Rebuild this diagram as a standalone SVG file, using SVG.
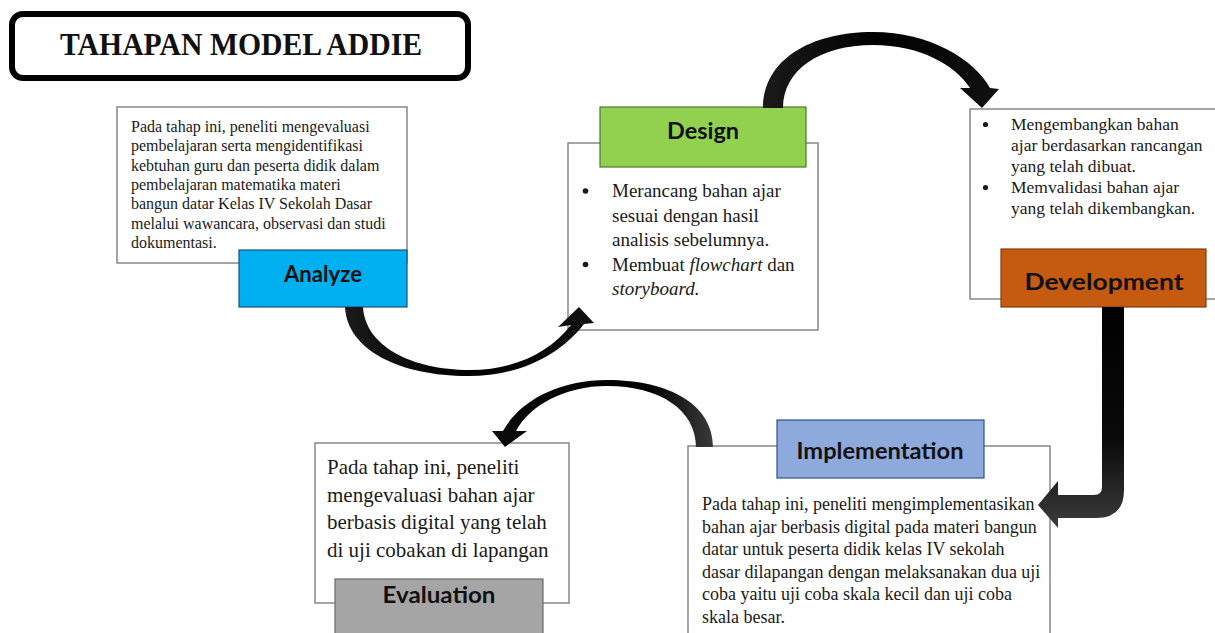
<svg xmlns="http://www.w3.org/2000/svg" width="1215" height="633" viewBox="0 0 1215 633">
<defs>
<style>
.box{fill:#fff;stroke:#7f7f7f;stroke-width:1.4}
.body{font-family:"Liberation Serif","Times New Roman",serif;fill:#1a1a1a}
.lbl{font-family:Lato,"Open Sans",sans-serif;font-weight:bold;font-size:22px;fill:#111;text-anchor:middle}
.title{font-family:"Liberation Serif","Times New Roman",serif;font-weight:bold;font-size:32px;fill:#111;text-anchor:middle}
.bul{fill:#1a1a1a}
</style>
<linearGradient id="gV" x1="0" y1="0" x2="0" y2="1">
<stop offset="0" stop-color="#000"/><stop offset="0.6" stop-color="#0a0a0a"/><stop offset="1" stop-color="#3c3c3c"/>
</linearGradient>
<linearGradient id="gH" x1="0" y1="0" x2="1" y2="0">
<stop offset="0" stop-color="#0a0a0a"/><stop offset="0.7" stop-color="#000"/><stop offset="1" stop-color="#3a3a3a"/>
</linearGradient>
<linearGradient id="gH2" x1="0" y1="0" x2="1" y2="0">
<stop offset="0" stop-color="#1a1a1a"/><stop offset="0.5" stop-color="#000"/><stop offset="1" stop-color="#111"/>
</linearGradient>
</defs>
<rect width="1215" height="633" fill="#fff"/>

<g id="title">
<rect x="12" y="14" width="456" height="64" rx="11" fill="#fff" stroke="#000" stroke-width="6"/>
<text class="title" x="241" y="55" textLength="362" lengthAdjust="spacingAndGlyphs">TAHAPAN MODEL ADDIE</text>
</g>

<g id="analyze">
<rect class="box" x="117" y="107" width="290" height="156"/>
<text class="body" font-size="16">
<tspan x="131" y="132">Pada tahap ini, peneliti mengevaluasi</tspan>
<tspan x="131" y="151.3">pembelajaran serta mengidentifikasi</tspan>
<tspan x="131" y="170.6">kebtuhan guru dan peserta didik dalam</tspan>
<tspan x="131" y="189.9">pembelajaran matematika materi</tspan>
<tspan x="131" y="209.2">bangun datar Kelas IV Sekolah Dasar</tspan>
<tspan x="131" y="228.5">melalui wawancara, observasi dan studi</tspan>
<tspan x="131" y="247.8">dokumentasi.</tspan>
</text>
<rect x="239" y="250" width="168" height="57" fill="#00B0F0" stroke="#1f4e79" stroke-width="1.2"/>
<text class="lbl" x="323" y="282" textLength="78" lengthAdjust="spacingAndGlyphs">Analyze</text>
</g>

<g id="design">
<rect class="box" x="568" y="143" width="250" height="187"/>
<rect x="600" y="107" width="206" height="60" fill="#92D050" stroke="#4e7a2a" stroke-width="1.2"/>
<text class="lbl" x="703" y="139" textLength="72" lengthAdjust="spacingAndGlyphs">Design</text>
<circle class="bul" cx="585.5" cy="191" r="2.8"/>
<circle class="bul" cx="585.5" cy="264.5" r="2.8"/>
<text class="body" font-size="19">
<tspan x="612" y="197">Merancang bahan ajar</tspan>
<tspan x="612" y="221.5">sesuai dengan hasil</tspan>
<tspan x="612" y="246">analisis sebelumnya.</tspan>
<tspan x="612" y="270.5">Membuat </tspan><tspan font-style="italic">flowchart</tspan><tspan> dan</tspan>
<tspan x="612" y="295" font-style="italic">storyboard.</tspan>
</text>
</g>

<g id="development">
<rect class="box" x="970" y="109" width="250" height="190"/>
<circle class="bul" cx="985.5" cy="124.5" r="2.6"/>
<circle class="bul" cx="985.5" cy="187.5" r="2.6"/>
<text class="body" font-size="17.5">
<tspan x="1011" y="130">Mengembangkan bahan</tspan>
<tspan x="1011" y="151">ajar berdasarkan rancangan</tspan>
<tspan x="1011" y="172">yang telah dibuat.</tspan>
<tspan x="1011" y="193">Memvalidasi bahan ajar</tspan>
<tspan x="1011" y="214">yang telah dikembangkan.</tspan>
</text>
<rect x="1001" y="249" width="205" height="58" fill="#C55A11" stroke="#843c0c" stroke-width="1.2"/>
<text class="lbl" x="1104" y="290" textLength="159" lengthAdjust="spacingAndGlyphs">Development</text>
</g>

<g id="implementation">
<rect class="box" x="688" y="446" width="362" height="200"/>
<rect x="777" y="420" width="207" height="58" fill="#8EA9DB" stroke="#2f528f" stroke-width="1.2"/>
<text class="lbl" x="880" y="459" textLength="167" lengthAdjust="spacingAndGlyphs">Implementation</text>
<text class="body" font-size="18">
<tspan x="702" y="510">Pada tahap ini, peneliti mengimplementasikan</tspan>
<tspan x="702" y="532.5">bahan ajar berbasis digital pada materi bangun</tspan>
<tspan x="702" y="555">datar untuk peserta didik kelas IV sekolah</tspan>
<tspan x="702" y="577.5">dasar dilapangan dengan melaksanakan dua uji</tspan>
<tspan x="702" y="600">coba yaitu uji coba skala kecil dan uji coba</tspan>
<tspan x="702" y="622.5">skala besar.</tspan>
</text>
</g>

<g id="evaluation">
<rect class="box" x="315" y="443" width="254" height="160"/>
<text class="body" font-size="21">
<tspan x="327" y="474">Pada tahap ini, peneliti</tspan>
<tspan x="327" y="501.5">mengevaluasi bahan ajar</tspan>
<tspan x="327" y="529">berbasis digital yang telah</tspan>
<tspan x="327" y="556.5">di uji cobakan di lapangan</tspan>
</text>
<rect x="335" y="579" width="208" height="62" fill="#A5A5A5" stroke="#6b6b6b" stroke-width="1.2"/>
<text class="lbl" x="439" y="603" textLength="113" lengthAdjust="spacingAndGlyphs">Evaluation</text>
</g>

<g id="connectors">
<path id="c-analyze-design" fill="url(#gH2)" d="M345,307 C347,350 400,376 468,376 C520,376 560,355 584,324 L594,323 L579,307 L558,327 L571,325 C550,352 515,370 470,370 C410,370 365,345 363,307 Z"/>
<path id="c-design-development" fill="url(#gH2)" d="M763,108 C763,60 810,32 873,32 C930,32 975,60 990,88 L999,89 L982,108 L960,88 L970,88 C955,65 920,45 873,45 C820,45 783,70 783,108 Z"/>
<path id="c-development-implementation" fill="url(#gV)" d="M1102,307 L1124,307 L1124,490 Q1124,518 1096,518 L1058,518 L1058,528 L1038,505 L1058,481 L1058,495 L1094,495 Q1102,495 1102,487 Z"/>
<path id="c-implementation-evaluation" fill="url(#gH)" d="M713,447 C713,405 670,380 607,380 C560,380 520,400 503,431 L492,431 L505,447 L527,431 L516,431 C530,405 565,386 607,386 C660,386 696,410 696,447 Z"/>
</g>
</svg>
